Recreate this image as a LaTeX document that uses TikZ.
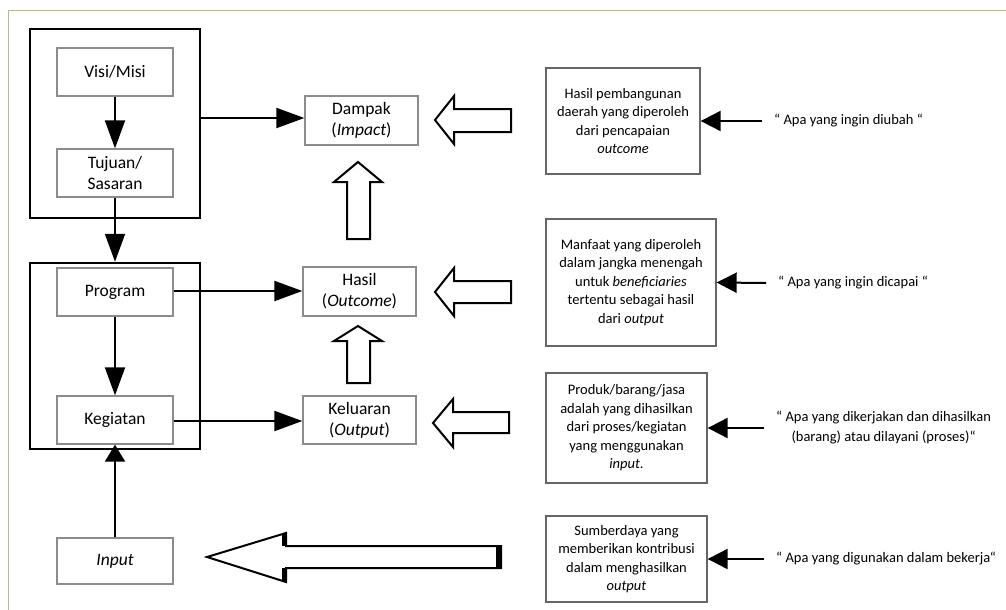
\documentclass[tikz,border=0pt]{standalone}
\usepackage{fontspec}
\setmainfont{Carlito}
\usetikzlibrary{arrows.meta,positioning}

\definecolor{rim}{RGB}{190,182,140}

\tikzset{
  box/.style={draw=black!45, line width=1.3pt, minimum width=116pt, minimum height=48pt, inner sep=0pt, align=center, font=\fontsize{17.5}{21}\selectfont},
  outer/.style={draw, line width=2.5pt, inner sep=0pt},
  note/.style={draw=black!60, line width=1.3pt, inner sep=0pt, align=center, font=\fontsize{14.5}{18.5}\selectfont},
  quote/.style={anchor=west, inner xsep=12pt, inner ysep=0pt, align=center, font=\fontsize{14.5}{20}\selectfont},
  link/.style={line width=2pt, -{Triangle[length=28pt,width=20pt]}},
  pointer/.style={line width=2pt, -{Triangle[length=20pt,width=20pt]}},
  hollow/.style={draw, line width=2pt, fill=white, line join=miter},
}

\begin{document}
\begin{tikzpicture}[x=1pt, y=-1pt]
        \useasboundingbox (0,0) rectangle (1006,610);

        % Page rim
        \draw[rim, line width=1pt] (8,610) -- (8,11) -- (1006,11);

        % Frames round the planning boxes
        \node[outer, minimum width=170pt, minimum height=189pt] (frameA) at (115,123.5) {};
        \node[outer, minimum width=170pt, minimum height=186pt] (frameB) at (115,356) {};

        % Left column
        \node[box] (visi) at (115,72) {Visi/Misi};
        \node[box] (tujuan) at (115,173) {Tujuan/\\Sasaran};
        \node[box] (program) at (115,292) {Program};
        \node[box] (kegiatan) at (115,420) {Kegiatan};
        \node[box, minimum height=46pt] (input) at (115,561) {\textit{Input}};

        % Middle column
        \node[box, minimum width=113pt, minimum height=49pt] (dampak) at (361.5,120.5) {Dampak\\(\textit{Impact})};
        \node[box, minimum width=113pt, minimum height=49pt] (hasil) at (359.5,291.5) {Hasil\\(\textit{Outcome})};
        \node[box, minimum width=113pt] (keluaran) at (359.5,420) {Keluaran\\(\textit{Output})};

        % Arrows on the left
        \draw[link] (visi.south) -- (tujuan.north);
        \draw[link] (tujuan.south) -- (frameB.north);
        \draw[link] (program.south) -- (kegiatan.north);
        \draw[line width=2pt, -{Triangle[length=17pt,width=20pt]}] (input.north) -- (kegiatan.south);
        \draw[link] (frameA.east |- 0,118) -- (dampak.west |- 0,118);
        \draw[link] (program.east |- 0,291) -- (hasil.west |- 0,291);
        \draw[link] (kegiatan.east |- 0,421) -- (keluaran.west |- 0,421);

        % Hollow block arrows
        \draw[hollow] (358,162) -- (382,182) -- (370,182) -- (370,239) -- (347,239) -- (347,182) -- (334,182) -- cycle;
        \draw[hollow] (358,326) -- (382,341) -- (370,341) -- (370,383) -- (347,383) -- (347,341) -- (334,341) -- cycle;
        \draw[hollow] (435,120) -- (454,96) -- (454,109) -- (511,109) -- (511,132) -- (454,132) -- (454,144) -- cycle;
        \draw[hollow] (435,292) -- (454,268) -- (454,281) -- (511,281) -- (511,303) -- (454,303) -- (454,316) -- cycle;
        \draw[hollow] (433,423) -- (453,399) -- (453,412) -- (509,412) -- (509,433) -- (453,433) -- (453,447) -- cycle;
        \draw[hollow] (207,557) -- (286,533) -- (286,546) -- (501,546) -- (501,568) -- (286,568) -- (286,582) -- cycle;
        \draw[line width=5pt] (498,546) -- (498,568);
        \draw[line width=5pt] (284,534) -- (284,546);
        \draw[line width=5pt] (284,568) -- (284,581);

        % Explanations
        \node[note, minimum width=154pt, minimum height=106pt] (ketA) at (623,121)
            {Hasil pembangunan\\daerah yang diperoleh\\dari pencapaian\\\textit{outcome}};
        \node[note, minimum width=170pt, minimum height=127pt] (ketB) at (631,282.5)
            {Manfaat yang diperoleh\\dalam jangka menengah\\untuk \textit{beneficiaries}\\tertentu sebagai hasil\\dari \textit{output}};
        \node[note, minimum width=161pt, minimum height=110pt] (ketC) at (626.5,428)
            {Produk/barang/jasa\\adalah yang dihasilkan\\dari proses/kegiatan\\yang menggunakan\\\textit{input}.};
        \node[note, minimum width=161pt, minimum height=86pt] (ketD) at (626.5,559)
            {Sumberdaya yang\\memberikan kontribusi\\dalam menghasilkan\\\textit{output}};

        % Questions
        \node[quote] (tanyaA) at (762,121) {“ Apa yang ingin diubah “};
        \node[quote] (tanyaB) at (766,283) {“ Apa yang ingin dicapai “};
        \node[quote] (tanyaC) at (764,428) {“ Apa yang dikerjakan dan dihasilkan\\(barang) atau dilayani (proses)“};
        \node[quote] (tanyaD) at (764,559) {“ Apa yang digunakan dalam bekerja“};

        \draw[pointer] (tanyaA.west) -- (ketA.east);
        \draw[pointer] (tanyaB.west) -- (ketB.east);
        \draw[pointer] (tanyaC.west) -- (ketC.east);
        \draw[pointer] (tanyaD.west) -- (ketD.east);
    \end{tikzpicture}
\end{document}
